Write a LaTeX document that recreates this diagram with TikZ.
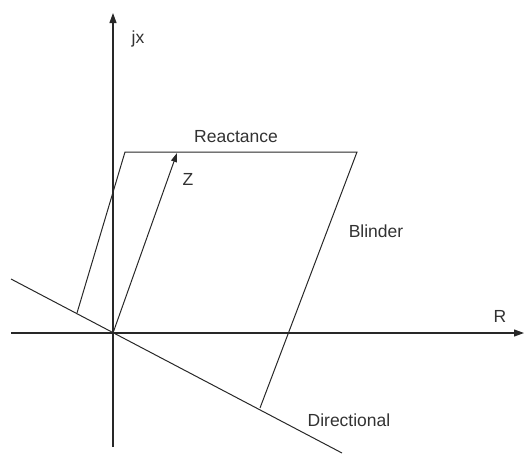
\documentclass[tikz,border=0pt]{standalone}
\usepackage{fontspec}
\setmainfont{Liberation Sans}
\definecolor{lineblack}{RGB}{40,40,40}
\definecolor{textgray}{RGB}{50,50,50}
\usetikzlibrary{arrows.meta,positioning}
\tikzset{
  axisline/.style={draw=lineblack, line width=1.1pt, -{Triangle[length=10pt,width=7pt]}},
  relayline/.style={draw=lineblack, line width=1pt},
  zline/.style={draw=lineblack, line width=1pt, -{Triangle[length=9pt,width=6pt]}},
  lbl/.style={font=\fontsize{17.5}{20}\selectfont, text=textgray, inner sep=0pt, anchor=base},
}

\begin{document}
\begin{tikzpicture}[x=1pt, y=-1pt]
\useasboundingbox (0,0) rectangle (528,456);

% Axes
\coordinate (o) at (113,333);
\coordinate (ybot) at (113,447);
\coordinate (ytop) at (113,13);
\coordinate (xleft) at (11,333);
\coordinate (xright) at (524,333);
\draw[axisline] (ybot) -- (ytop);
\draw[axisline] (xleft) -- (xright);
\node[lbl] (jx) at (138,43) {jx};
\node[lbl] (R) at (500,322) {R};

% Directional line
\coordinate (dleft) at (11,279);
\coordinate (dright) at (342,453);
\draw[relayline] (dleft) -- (dright);
\node[lbl] (dirlbl) at (349,426) {Directional};

% Reactance and blinder
\coordinate (pll) at (77,313);
\coordinate (pul) at (125,152);
\coordinate (pur) at (357,152);
\coordinate (plr) at (260,408);
\draw[relayline] (pll) -- (pul) -- (pur) -- (plr);
\node[lbl] (reactlbl) at (236,142) {Reactance};
\node[lbl] (blindlbl) at (376,237) {Blinder};

% Impedance
\coordinate (ztip) at (177,153);
\draw[zline] (o) -- (ztip);
\node[lbl] (Z) at (188,185) {Z};

\end{tikzpicture}
\end{document}
